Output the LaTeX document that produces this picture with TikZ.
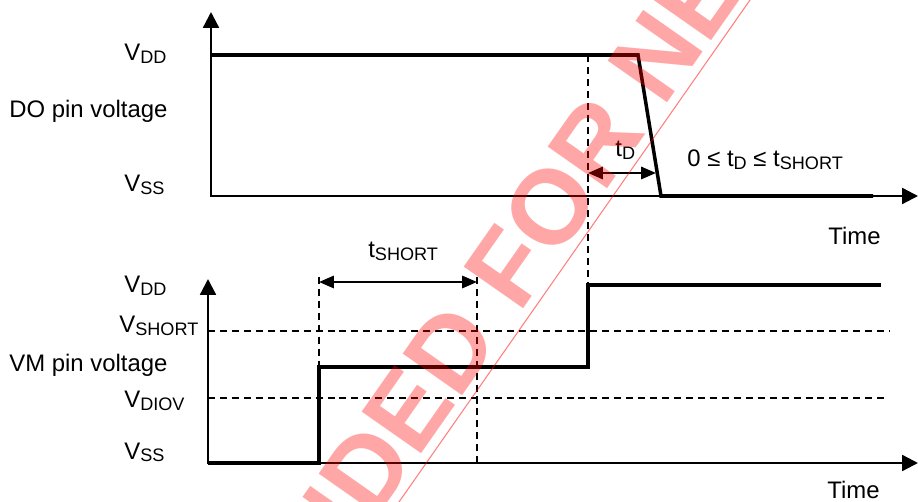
\documentclass[tikz,border=0pt]{standalone}
\usepackage{fontspec}
\setmainfont{Liberation Sans}
\usetikzlibrary{arrows.meta,calc}
\newcommand{\lowsub}[1]{\raisebox{-1.6pt}{\fontsize{10.3}{12}\selectfont #1}}
\tikzset{
  axis/.style={line width=1.3pt, -{Triangle[length=9pt,width=9pt]}},
  signal/.style={line width=2pt, line join=miter},
  guide/.style={line width=0.7pt, dash pattern=on 4pt off 2.8pt},
  span/.style={line width=1.3pt, {Triangle[length=8.5pt,width=7pt]}-{Triangle[length=8.5pt,width=7pt]}},
  lbl/.style={anchor=base west, inner sep=0pt, font=\fontsize{13.6}{16}\selectfont},
  stamp/.style={inner sep=0pt, rotate=55, text=red, text opacity=0.35,
    font=\fontsize{60}{60}\selectfont\bfseries}
}
\begin{document}
\begin{tikzpicture}[x=0.2mm, y=-0.2mm, line cap=butt]
  \useasboundingbox (0,0) rectangle (918,502);
  % DO pin voltage
  \draw[axis] (211,197) -- (211,12);
  \draw[axis] (211,196) -- (918,196);
  \draw[signal] (211,55) -- (638,55) -- (661,196) -- (873,196);
  \draw[guide] (588,55) -- (588,284);
  \coordinate (tdL) at (588,173);
  \coordinate (tdR) at (656,173);
  \draw[span] (tdL) -- (tdR);
  \node[lbl] (doVdd) at (124,61) {V\lowsub{DD}};
  \node[lbl] (doName) at (9,118) {DO pin voltage};
  \node[lbl] (doVss) at (124,192) {V\lowsub{SS}};
  \node[lbl] (tdName) at (615,157) {t\lowsub{D}};
  \node[lbl] (tdRange) at (687,167) {0 ≤ t\lowsub{D} ≤ t\lowsub{SHORT}};
  \node[lbl] (doTime) at (828,245) {Time};
  % VM pin voltage
  \draw[axis] (208,464) -- (208,279);
  \draw[axis] (208,463) -- (918,463);
  \draw[guide] (208,331) -- (890,331);
  \draw[guide] (208,398) -- (888,398);
  \draw[signal] (208,463) -- (319,463) -- (319,367) -- (588,367) -- (588,285) -- (881,285);
  \draw[guide] (319,277) -- (319,367);
  \draw[guide] (477,277) -- (477,463);
  \coordinate (tsL) at (319,282);
  \coordinate (tsR) at (477,282);
  \draw[span] (tsL) -- (tsR);
  \node[lbl] (vmVdd) at (124,293) {V\lowsub{DD}};
  \node[lbl] (vmVshort) at (119,333) {V\lowsub{SHORT}};
  \node[lbl] (vmName) at (9,372) {VM pin voltage};
  \node[lbl] (vmVdiov) at (124,408) {V\lowsub{DIOV}};
  \node[lbl] (vmVss) at (124,459) {V\lowsub{SS}};
  \node[lbl] (tsName) at (368,258) {t\lowsub{SHORT}};
  \node[lbl] (vmTime) at (827,498) {Time};
  % watermark
  \begin{scope}
    \clip (0,0) rectangle (918,502);
    \node[stamp, anchor=base west] (stampB) at (519,315) {FOR NEW DESIGN};
    \node[stamp, anchor=base east] (stampA) at ($(stampB.base west)!-16.7pt!(stampB.base east)$) {NOT RECOMMENDED};
    \draw[red, opacity=0.5, line width=0.6pt] (764,-20) -- (385,522);
  \end{scope}
\end{tikzpicture}
\end{document}
